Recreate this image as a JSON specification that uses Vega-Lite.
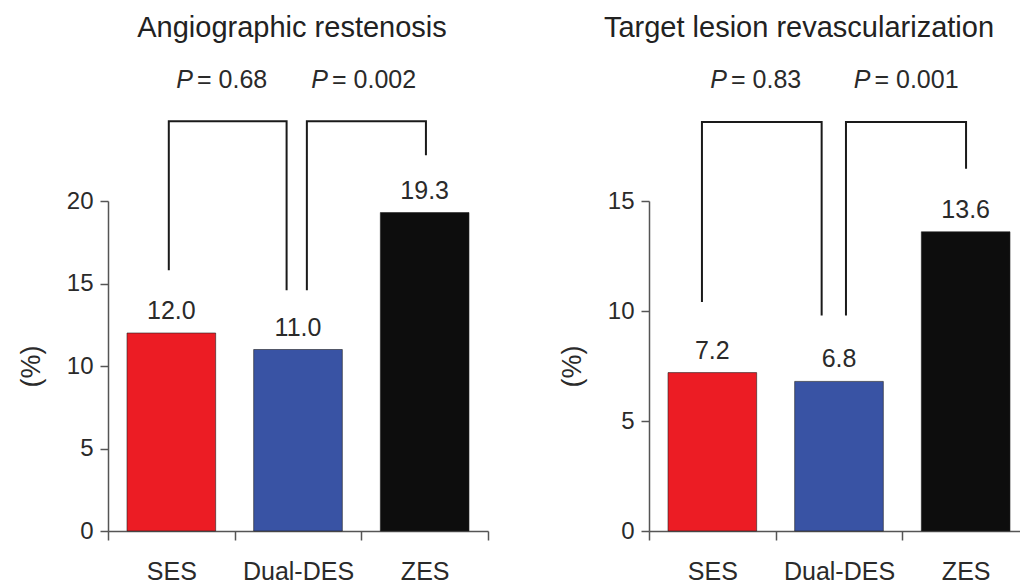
{
  "$schema": "https://vega.github.io/schema/vega-lite/v6.json",
  "background": "white",
  "padding": {"left": 17, "top": 14, "right": 0, "bottom": 0},
  "config": {
    "view": {"stroke": null},
    "font": "Liberation Sans",
    "axis": {
      "grid": false,
      "domainColor": "#555555",
      "domainWidth": 1.5,
      "tickColor": "#555555",
      "tickWidth": 1.5,
      "labelFont": "Liberation Sans",
      "labelFontSize": 24,
      "labelColor": "#2a2a2a",
      "titleFont": "Liberation Sans",
      "titleFontSize": 27,
      "titleFontWeight": "normal",
      "titleColor": "#2a2a2a"
    },
    "axisY": {"tickSize": 8, "labelPadding": 7, "titlePadding": 21},
    "axisX": {"tickSize": 9, "labelPadding": 19, "labelAngle": 0, "tickBand": "extent", "labelFontSize": 25},
    "title": {"fontSize": 29, "fontWeight": "normal", "color": "#222222", "anchor": "middle", "frame": "group", "baseline": "alphabetic", "font": "Liberation Sans"},
    "text": {"font": "Liberation Sans", "color": "#2a2a2a"}
  },
  "datasets": {
    "ar_bars": [
      {"group": "SES", "value": 12.0},
      {"group": "Dual-DES", "value": 11.0},
      {"group": "ZES", "value": 19.3}
    ],
    "ar_brackets": [
      {"pair": "SES vs Dual-DES", "step": 1, "pos": 0.48, "y": 15.8},
      {"pair": "SES vs Dual-DES", "step": 2, "pos": 0.48, "y": 24.83},
      {"pair": "SES vs Dual-DES", "step": 3, "pos": 1.41, "y": 24.83},
      {"pair": "SES vs Dual-DES", "step": 4, "pos": 1.41, "y": 14.59},
      {"pair": "Dual-DES vs ZES", "step": 1, "pos": 1.57, "y": 14.59},
      {"pair": "Dual-DES vs ZES", "step": 2, "pos": 1.57, "y": 24.83},
      {"pair": "Dual-DES vs ZES", "step": 3, "pos": 2.51, "y": 24.83},
      {"pair": "Dual-DES vs ZES", "step": 4, "pos": 2.51, "y": 22.77}
    ],
    "ar_p": [
      {"pair": "SES vs Dual-DES", "pos": 0.687, "y": 26.83, "label": "= 0.68"},
      {"pair": "Dual-DES vs ZES", "pos": 1.753, "y": 26.83, "label": "= 0.002"}
    ],
    "tlr_bars": [
      {"group": "SES", "value": 7.2},
      {"group": "Dual-DES", "value": 6.8},
      {"group": "ZES", "value": 13.6}
    ],
    "tlr_brackets": [
      {"pair": "SES vs Dual-DES", "step": 1, "pos": 0.418, "y": 10.41},
      {"pair": "SES vs Dual-DES", "step": 2, "pos": 0.418, "y": 18.59},
      {"pair": "SES vs Dual-DES", "step": 3, "pos": 1.363, "y": 18.59},
      {"pair": "SES vs Dual-DES", "step": 4, "pos": 1.363, "y": 9.8},
      {"pair": "Dual-DES vs ZES", "step": 1, "pos": 1.555, "y": 9.8},
      {"pair": "Dual-DES vs ZES", "step": 2, "pos": 1.555, "y": 18.59},
      {"pair": "Dual-DES vs ZES", "step": 3, "pos": 2.503, "y": 18.59},
      {"pair": "Dual-DES vs ZES", "step": 4, "pos": 2.503, "y": 16.47}
    ],
    "tlr_p": [
      {"pair": "SES vs Dual-DES", "pos": 0.632, "y": 20.12, "label": "= 0.83"},
      {"pair": "Dual-DES vs ZES", "pos": 1.764, "y": 20.12, "label": "= 0.001"}
    ]
  },
  "spacing": 69,
  "hconcat": [
    {
      "title": {"text": "Angiographic restenosis", "dx": -6, "offset": 25},
      "width": 380,
      "height": 330,
      "resolve": {"scale": {"x": "independent"}},
      "layer": [
        {
          "data": {"name": "ar_bars"},
          "layer": [
            {
              "mark": {"type": "bar", "width": {"band": 0.7}, "stroke": "#222222", "strokeWidth": 1, "strokeOpacity": 0.6},
              "encoding": {
                "x": {"field": "group", "type": "nominal", "sort": ["SES", "Dual-DES", "ZES"], "title": null, "scale": {"paddingInner": 0, "paddingOuter": 0}},
                "y": {"field": "value", "type": "quantitative", "title": "(%)", "scale": {"domain": [0, 20], "nice": false}, "axis": {"values": [0, 5, 10, 15, 20]}},
                "color": {"field": "group", "type": "nominal", "scale": {"domain": ["SES", "Dual-DES", "ZES"], "range": ["#ec1c24", "#3953a4", "#0d0d0d"]}, "legend": null}
              }
            },
            {
              "mark": {"type": "text", "baseline": "alphabetic", "dy": -14, "fontSize": 25},
              "encoding": {
                "x": {"field": "group", "type": "nominal", "sort": ["SES", "Dual-DES", "ZES"], "title": null},
                "y": {"field": "value", "type": "quantitative", "title": "(%)"},
                "text": {"field": "value", "type": "quantitative", "format": ".1f"}
              }
            }
          ]
        },
        {
          "layer": [
            {
              "data": {"name": "ar_brackets"},
              "mark": {"type": "line", "color": "#1a1a1a", "strokeWidth": 2, "strokeJoin": "miter"},
              "encoding": {
                "x": {"field": "pos", "type": "quantitative", "scale": {"domain": [0, 3], "nice": false, "zero": false}, "axis": null},
                "y": {"field": "y", "type": "quantitative", "title": "(%)"},
                "detail": {"field": "pair"},
                "order": {"field": "step"}
              }
            },
            {
              "data": {"name": "ar_p"},
              "mark": {"type": "text", "align": "right", "baseline": "alphabetic", "fontStyle": "italic", "fontSize": 25, "dx": -2},
              "encoding": {
                "x": {"field": "pos", "type": "quantitative", "axis": null},
                "y": {"field": "y", "type": "quantitative", "title": "(%)"},
                "text": {"value": "P"}
              }
            },
            {
              "data": {"name": "ar_p"},
              "mark": {"type": "text", "align": "left", "baseline": "alphabetic", "fontSize": 25, "dx": 2},
              "encoding": {
                "x": {"field": "pos", "type": "quantitative", "axis": null},
                "y": {"field": "y", "type": "quantitative", "title": "(%)"},
                "text": {"field": "label"}
              }
            }
          ]
        }
      ]
    },
    {
      "title": {"text": "Target lesion revascularization", "dx": -40, "offset": 25},
      "width": 380,
      "height": 330,
      "resolve": {"scale": {"x": "independent"}},
      "layer": [
        {
          "data": {"name": "tlr_bars"},
          "layer": [
            {
              "mark": {"type": "bar", "width": {"band": 0.7}, "stroke": "#222222", "strokeWidth": 1, "strokeOpacity": 0.6},
              "encoding": {
                "x": {"field": "group", "type": "nominal", "sort": ["SES", "Dual-DES", "ZES"], "title": null, "scale": {"paddingInner": 0, "paddingOuter": 0}},
                "y": {"field": "value", "type": "quantitative", "title": "(%)", "scale": {"domain": [0, 15], "nice": false}, "axis": {"values": [0, 5, 10, 15]}},
                "color": {"field": "group", "type": "nominal", "scale": {"domain": ["SES", "Dual-DES", "ZES"], "range": ["#ec1c24", "#3953a4", "#151314"]}, "legend": null}
              }
            },
            {
              "mark": {"type": "text", "baseline": "alphabetic", "dy": -14, "fontSize": 25},
              "encoding": {
                "x": {"field": "group", "type": "nominal", "sort": ["SES", "Dual-DES", "ZES"], "title": null},
                "y": {"field": "value", "type": "quantitative", "title": "(%)"},
                "text": {"field": "value", "type": "quantitative", "format": ".1f"}
              }
            }
          ]
        },
        {
          "layer": [
            {
              "data": {"name": "tlr_brackets"},
              "mark": {"type": "line", "color": "#1a1a1a", "strokeWidth": 2, "strokeJoin": "miter"},
              "encoding": {
                "x": {"field": "pos", "type": "quantitative", "scale": {"domain": [0, 3], "nice": false, "zero": false}, "axis": null},
                "y": {"field": "y", "type": "quantitative", "title": "(%)"},
                "detail": {"field": "pair"},
                "order": {"field": "step"}
              }
            },
            {
              "data": {"name": "tlr_p"},
              "mark": {"type": "text", "align": "right", "baseline": "alphabetic", "fontStyle": "italic", "fontSize": 25, "dx": -2},
              "encoding": {
                "x": {"field": "pos", "type": "quantitative", "axis": null},
                "y": {"field": "y", "type": "quantitative", "title": "(%)"},
                "text": {"value": "P"}
              }
            },
            {
              "data": {"name": "tlr_p"},
              "mark": {"type": "text", "align": "left", "baseline": "alphabetic", "fontSize": 25, "dx": 2},
              "encoding": {
                "x": {"field": "pos", "type": "quantitative", "axis": null},
                "y": {"field": "y", "type": "quantitative", "title": "(%)"},
                "text": {"field": "label"}
              }
            }
          ]
        }
      ]
    }
  ]
}
